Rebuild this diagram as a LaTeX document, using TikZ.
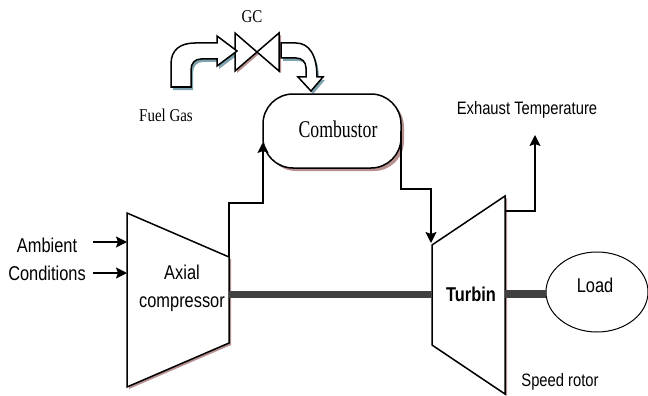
\documentclass[tikz,border=0pt]{standalone}
\usepackage{fontspec}
\setmainfont{Liberation Serif}
\setsansfont{Liberation Sans}
\usetikzlibrary{arrows.meta}
\usetikzlibrary{shapes}
\definecolor{rosy}{HTML}{B89090}
\definecolor{bluey}{HTML}{7FA3AE}
\definecolor{shaftgray}{HTML}{404040}
\tikzset{
part/.style={
  draw=black,
  line width=1.5pt,
  line join=miter,
  fill=white
  },
rshade/.style={
  fill=rosy,
  shift={(2,2)}
  },
bshade/.style={
  fill=bluey,
  shift={(2,3)}
  },
combox/.style={
  rectangle,
  rounded corners=30pt,
  minimum width=138pt,
  minimum height=74pt,
  inner sep=0pt
  },
wire/.style={
  ->,>={Stealth[length=11pt,width=11pt,inset=2pt]},
  line width=1.5pt
  },
shaft/.style={
  draw=shaftgray,
  line width=7pt
  },
sanslab/.style={
  font=\sffamily\fontsize{20}{28}\selectfont,
  transform shape,
  xscale=0.82,
  inner sep=0pt,
  align=center
  },
seriflab/.style={
  font=\fontsize{18}{20}\selectfont,
  transform shape,
  xscale=0.83,
  inner sep=0pt
  }
}
\newcommand{\fuelarrow}{(171,87) -- (171,64) .. controls (171,50) and (180,43) .. (195,43) -- (217,43) -- (217,36) -- (237,51) -- (217,66) -- (217,59) -- (201,59) .. controls (195,59) and (191,63) .. (191,70) -- (191,87) -- cycle}
\newcommand{\gasarrow}{(281,43) -- (296,43) .. controls (309,43) and (317,55) .. (317,77) -- (323,77) -- (311,91) -- (298,77) -- (306,77) -- (306,68) .. controls (306,62) and (302,58) .. (296,58) -- (281,58) -- cycle}
\begin{document}
\begin{tikzpicture}[x=1pt,y=-1pt]
        \useasboundingbox (0,0) rectangle (648,396);
        \coordinate (compin1) at (127,242);
        \coordinate (compin2) at (127,273);
        \coordinate (compout) at (229,257);
        \coordinate (compshaft) at (229,294);
        \coordinate (combin) at (263,142);
        \coordinate (combout) at (401,131);
        \coordinate (turbin) at (431,243);
        \coordinate (turbout) at (505,211);
        \coordinate (turbshaft) at (432,294);
        \coordinate (turbload) at (505,294);
        \coordinate (loadin) at (546,294);
        \coordinate (ambA) at (93,242);
        \coordinate (ambB) at (93,273);
        \coordinate (exh) at (535,135);
        % shadows
        \fill[rshade] (127,213) -- (229,257) -- (229,343) -- (127,387) -- cycle;
        \fill[rshade] (432,245) -- (505,196) -- (505,394) -- (432,345) -- cycle;
        \fill[rshade] (235,33) -- (279,71) -- (279,33) -- (235,71) -- cycle;
        \fill[bshade] \fuelarrow;
        \fill[bshade] \gasarrow;
        \node[combox,fill=rosy] at (335,134) (combshade) {};
        % machines
        \path[part] (127,213) -- (229,257) -- (229,343) -- (127,387) -- cycle;
        \path[part] (432,245) -- (505,196) -- (505,394) -- (432,345) -- cycle;
        \path[part] (235,33) -- (279,71) -- (279,33) -- (235,71) -- cycle;
        \path[part] \fuelarrow;
        \path[part] \gasarrow;
        \node[combox,part] at (332,131) (comb) {};
        \node[part,ellipse,line width=1pt,minimum width=102pt,minimum height=80pt,inner sep=0pt] at (597,292) (load) {};
        % connectors
        \draw[wire] (compout) |- (246,203) -| (combin);
        \draw[wire] (combout) |- (416,189) -| (turbin);
        \draw[wire] (turbout) -| (exh);
        \draw[wire] (ambA) -- (compin1);
        \draw[wire] (ambB) -- (compin2);
        \draw[shaft] (compshaft) -- (turbshaft);
        \draw[shaft,line width=8pt] (turbload) -- (loadin);
        % labels
        \node[seriflab] at (252,17) (gc) {GC};
        \node[seriflab] at (166,115) (fuel) {Fuel Gas};
        \node[seriflab,font=\fontsize{24}{26}\selectfont,xscale=0.89] at (338,129) (comblab) {Combustor};
        \node[sanslab] at (47,259) (amb) {Ambient\\Conditions};
        \node[sanslab] at (182,288) (axial) {Axial\\compressor};
        \node[sanslab,font=\sffamily\bfseries\fontsize{20}{28}\selectfont] at (471,294) (turb) {Turbin};
        \node[sanslab] at (595,285) (loadlab) {Load};
        \node[sanslab,font=\sffamily\fontsize{18}{20}\selectfont] at (527,110) (exhlab) {Exhaust Temperature};
        \node[sanslab,font=\sffamily\fontsize{18}{20}\selectfont] at (560,382) (speed) {Speed rotor};
    \end{tikzpicture}
\end{document}
